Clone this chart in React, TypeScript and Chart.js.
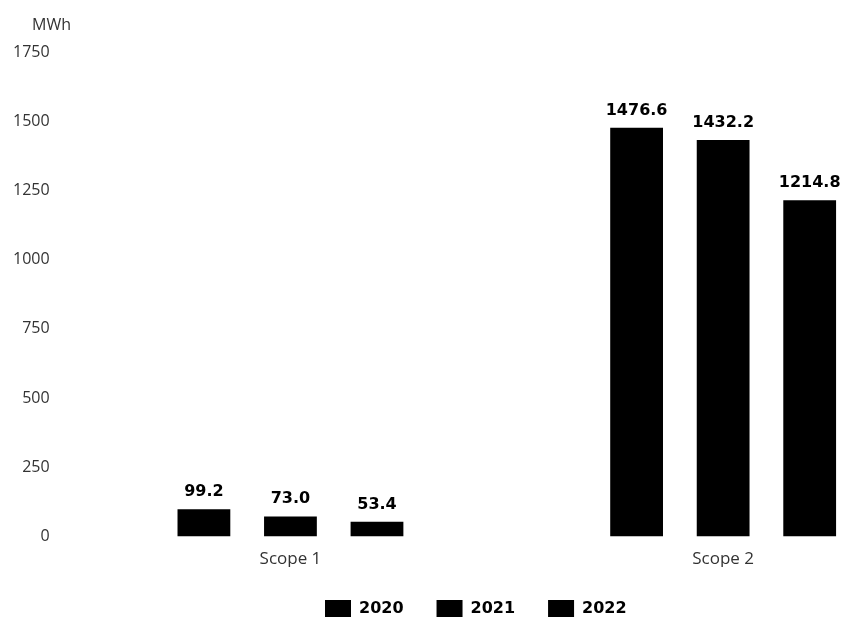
import React, { useEffect, useRef } from "react";
import { Chart, registerables } from "chart.js";

Chart.register(...registerables);

const categories = ["Scope 1", "Scope 2"];
const years = ["2020", "2021", "2022"];
const values2020 = [99.2, 1476.6];
const values2021 = [73.0, 1432.2];
const values2022 = [53.4, 1214.8];
const yTicks = [0, 250, 500, 750, 1000, 1250, 1500, 1750];

const tickFont = { family: "'Open Sans', sans-serif", size: 16 };
const categoryFont = { family: "'Open Sans', sans-serif", size: 17 };
const boldFont = "bold 16px 'DejaVu Sans', sans-serif";

// Value printed above every bar
const valueLabels = {
  id: "valueLabels",
  afterDatasetsDraw(chart: any) {
    const ctx = chart.ctx;
    ctx.save();
    ctx.font = boldFont;
    ctx.fillStyle = "#000";
    ctx.textAlign = "center";
    ctx.textBaseline = "alphabetic";
    chart.data.datasets.forEach((ds: any, i: number) => {
      const meta = chart.getDatasetMeta(i);
      meta.data.forEach((bar: any, j: number) => {
        ctx.fillText(ds.data[j].y.toFixed(1), bar.x, bar.y - 13);
      });
    });
    ctx.restore();
  },
};

// Unit caption above the value axis
const unitLabel = {
  id: "unitLabel",
  afterDraw(chart: any) {
    const ctx = chart.ctx;
    const area = chart.chartArea;
    ctx.save();
    ctx.font = "16px 'Open Sans', sans-serif";
    ctx.fillStyle = "#333";
    ctx.textAlign = "center";
    ctx.textBaseline = "middle";
    ctx.fillText("MWh", area.left - 1, area.top - 27);
    ctx.restore();
  },
};

// Nudge the legend row to the right of the plot's centre
const legendShift = {
  id: "legendShift",
  afterLayout(chart: any) {
    const legend = chart.legend;
    if (!legend) return;
    legend.left += 28;
    legend.right += 28;
  },
};

export default function App() {
  const ref = useRef<HTMLCanvasElement>(null);

  useEffect(() => {
    if (!ref.current) return;
    const series = [values2020, values2021, values2022];
    const chart = new Chart(ref.current, {
      type: "bar",
      data: {
        datasets: years.map((year, k) => ({
          label: year,
          data: series[k].map((v, i) => ({ x: i, y: v })),
          backgroundColor: "#000",
          borderWidth: 0,
          categoryPercentage: 0.6,
          barPercentage: 0.61,
        })),
      },
      options: {
        animation: false,
        responsive: true,
        maintainAspectRatio: false,
        layout: { padding: { top: 52, left: 10, right: 0, bottom: -8 } },
        plugins: {
          tooltip: { enabled: false },
          legend: {
            position: "bottom",
            fullSize: false,
            labels: {
              boxWidth: 26,
              boxHeight: 17,
              padding: 33,
              color: "#000",
              font: { family: "'DejaVu Sans', sans-serif", size: 16, weight: "bold" },
            },
          },
        },
        scales: {
          x: {
            type: "linear",
            offset: false,
            min: -0.5497,
            max: 1.277,
            grid: { display: false, drawTicks: false },
            border: { display: false },
            afterBuildTicks: (scale: any) => {
              scale.ticks = categories.map((_, i) => ({ value: i }));
            },
            afterFit: (scale: any) => {
              scale.height -= 14;
            },
            ticks: {
              padding: 12,
              color: "#333",
              font: categoryFont,
              maxRotation: 0,
              callback: (v: any) => categories[v] ?? "",
            },
          },
          y: {
            min: 0,
            max: 1750,
            grid: { display: false, drawTicks: false },
            border: { display: false },
            afterBuildTicks: (scale: any) => {
              scale.ticks = yTicks.map((v) => ({ value: v }));
            },
            ticks: {
              padding: 3,
              color: "#333",
              font: tickFont,
              callback: (v: any) => String(v),
            },
          },
        },
      },
      plugins: [valueLabels, unitLabel, legendShift],
    });
    return () => chart.destroy();
  }, []);

  return (
    <div style={{ position: "fixed", left: 0, top: 0, width: 843, height: 619, background: "#fff" }}>
      <canvas ref={ref} />
    </div>
  );
}
